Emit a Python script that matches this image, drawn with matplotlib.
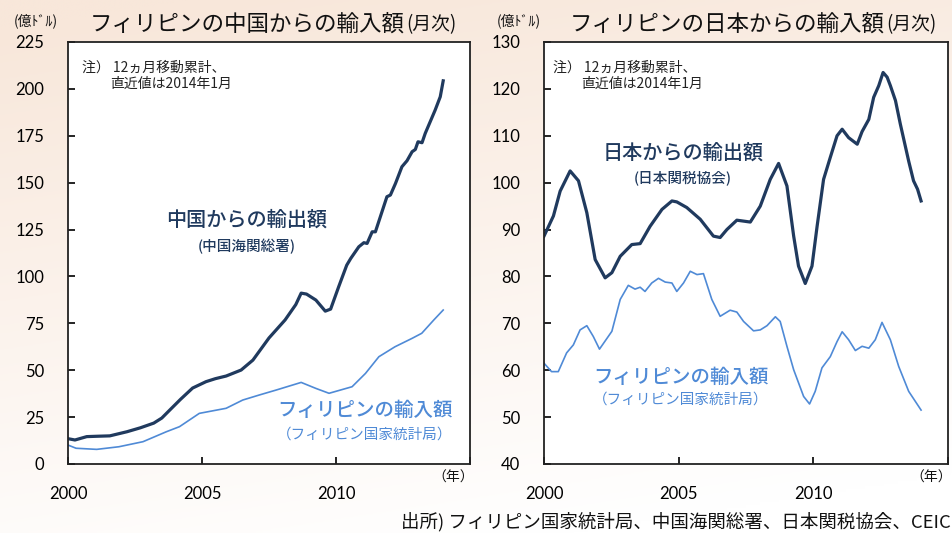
import numpy as np
import matplotlib
matplotlib.use("Agg")
import matplotlib.pyplot as plt

plt.rcParams['font.family'] = ['Noto Sans CJK JP', 'DejaVu Sans']

# data (decimal years, 億ドル, 12-month rolling sums)
china_years = [2000.0, 2000.26, 2000.7, 2001.1, 2001.56, 2002.2, 2002.7, 2003.2, 2003.5, 2003.8,
               2004.2, 2004.65, 2005.15, 2005.5, 2005.9, 2006.46, 2006.9, 2007.5, 2008.1, 2008.5,
               2008.7, 2008.9, 2009.25, 2009.6, 2009.8, 2010.1, 2010.4, 2010.55, 2010.85, 2011.04,
               2011.16, 2011.35, 2011.47, 2011.9, 2012.03, 2012.22, 2012.46, 2012.65, 2012.84, 2012.96,
               2013.06, 2013.21, 2013.33, 2013.7, 2013.89, 2014.0]
china_exports = [13.5, 12.8, 14.6, 14.8, 15.0, 17.2, 19.3, 21.8, 24.5, 28.8,
                 34.5, 40.5, 43.9, 45.5, 46.9, 50.1, 55.4, 67.2, 76.8, 85.0,
                 91.1, 90.6, 87.4, 81.5, 82.6, 94.5, 106.0, 109.6, 115.8, 118.0,
                 117.6, 123.8, 123.8, 142.5, 143.4, 149.6, 158.5, 161.7, 166.5, 167.7,
                 171.8, 171.3, 176.3, 188.7, 195.8, 204.3]

ph_china_years = [2000.0, 2000.3, 2001.07, 2001.9, 2002.8, 2003.67, 2004.16, 2004.9, 2005.9, 2006.52,
                  2007.14, 2007.76, 2008.7, 2009.25, 2009.74, 2010.6, 2011.1, 2011.6, 2012.2, 2012.84,
                  2013.2, 2013.65, 2014.0]
ph_from_china = [10.1, 8.4, 7.8, 9.2, 11.9, 17.2, 19.9, 27.0, 29.7, 34.1,
                 36.8, 39.4, 43.5, 40.3, 37.7, 41.2, 48.3, 57.2, 62.5, 67.0,
                 69.7, 76.8, 82.1]

japan_years = [2000.0, 2000.35, 2000.6, 2000.97, 2001.28, 2001.59, 2001.9, 2002.27, 2002.52, 2002.83,
               2003.26, 2003.57, 2003.94, 2004.38, 2004.75, 2004.93, 2005.3, 2005.8, 2006.29, 2006.54,
               2006.79, 2007.16, 2007.66, 2008.03, 2008.4, 2008.71, 2009.02, 2009.27, 2009.45, 2009.7,
               2009.95, 2010.14, 2010.38, 2010.63, 2010.88, 2011.07, 2011.31, 2011.63, 2011.81, 2012.06,
               2012.24, 2012.43, 2012.59, 2012.74, 2012.86, 2013.05, 2013.23, 2013.54, 2013.72, 2013.87,
               2014.0]
japan_exports = [88.6, 92.9, 98.2, 102.5, 100.4, 93.6, 83.6, 79.7, 80.8, 84.3,
                 86.8, 87.0, 90.7, 94.3, 96.1, 95.9, 94.7, 92.2, 88.6, 88.3,
                 90.0, 92.0, 91.6, 95.0, 100.7, 104.1, 99.3, 88.6, 82.2, 78.5,
                 82.2, 90.7, 100.7, 105.4, 110.0, 111.4, 109.6, 108.2, 110.9, 113.5,
                 118.2, 120.7, 123.5, 122.5, 120.7, 117.5, 112.5, 104.6, 100.4, 98.6,
                 96.1]

ph_japan_years = [2000.0, 2000.28, 2000.53, 2000.84, 2001.09, 2001.34, 2001.59, 2001.83, 2002.06, 2002.52,
                  2002.83, 2003.13, 2003.38, 2003.57, 2003.75, 2004.0, 2004.25, 2004.5, 2004.75, 2004.93,
                  2005.18, 2005.43, 2005.68, 2005.92, 2006.23, 2006.54, 2006.91, 2007.16, 2007.41, 2007.78,
                  2008.03, 2008.28, 2008.59, 2008.77, 2009.02, 2009.27, 2009.64, 2009.86, 2010.07, 2010.32,
                  2010.63, 2010.88, 2011.07, 2011.31, 2011.56, 2011.81, 2012.06, 2012.3, 2012.55, 2012.86,
                  2013.17, 2013.54, 2014.0]
ph_from_japan = [61.5, 59.7, 59.7, 63.7, 65.4, 68.6, 69.5, 67.2, 64.5, 68.3,
                 75.1, 78.1, 77.3, 77.7, 76.8, 78.6, 79.6, 78.8, 78.6, 76.8,
                 78.6, 81.1, 80.4, 80.6, 75.1, 71.5, 72.8, 72.4, 70.4, 68.4,
                 68.6, 69.5, 71.4, 70.4, 65.1, 60.1, 54.4, 52.8, 55.5, 60.5,
                 62.9, 66.1, 68.2, 66.5, 64.2, 65.1, 64.7, 66.5, 70.2, 66.5,
                 60.8, 55.5, 51.5]

x_ticks = [2000, 2005, 2010, 2015]
x_labels = ['2000', '2005', '2010', '']

dark = '#203a5e'
light = '#4f8ad6'
num_font = 'Lato'

W, H = 953, 533
fig = plt.figure(figsize=(W / 100, H / 100), dpi=100)

# peach background, fading to white towards the top
bg = fig.add_axes([0, 0, 1, 1], zorder=-10)
yy, xx = np.mgrid[0:1:200j, 0:1:200j]
t = np.clip(0.9 * yy + 0.25 * (1 - xx) - 0.1, 0, 1)
peach = np.array([248, 231, 218]) / 255
white = np.array([255, 255, 255]) / 255
img = white[None, None, :] * (1 - t[..., None]) + peach[None, None, :] * t[..., None]
bg.imshow(img[::-1], origin='upper', aspect='auto', extent=[0, 1, 0, 1])
bg.axis('off')


def px_axes(x0, y0, x1, y1):
    return fig.add_axes([x0 / W, 1 - y1 / H, (x1 - x0) / W, (y1 - y0) / H])


def ftext(x, y, s, **kw):
    return fig.text(x / W, 1 - y / H, s, **kw)


def style(ax, ymin, ymax, step):
    ax.set_xlim(2000, 2015)
    ax.set_ylim(ymin, ymax)
    ax.set_xticks(x_ticks)
    ax.set_xticklabels(x_labels)
    ax.set_yticks(np.arange(ymin, ymax + step / 2, step))
    ax.tick_params(direction='in', length=5, width=1.2, pad=16, labelsize=12)
    ax.tick_params(axis='y', pad=17)
    for lab in ax.get_xticklabels() + ax.get_yticklabels():
        lab.set_fontfamily(num_font)
    for s in ax.spines.values():
        s.set_linewidth(1.3)
        s.set_color('#222222')
    ax.set_facecolor('white')


# left panel: China
ax1 = px_axes(68, 42, 470, 464)
ax1.plot(ph_china_years, ph_from_china, color=light, lw=1.2)
ax1.plot(china_years, china_exports, color=dark, lw=2.3)
style(ax1, 0, 225, 25)

# right panel: Japan
ax2 = px_axes(544, 42, 948, 464)
ax2.plot(ph_japan_years, ph_from_japan, color=light, lw=1.2)
ax2.plot(japan_years, japan_exports, color=dark, lw=2.3)
style(ax2, 40, 130, 10)

# series labels
ftext(247, 220, '中国からの輸出額', color=dark, fontsize=14.5, fontweight='medium',
      ha='center', va='center')
ftext(247, 246, '(中国海関総署)', color=dark, fontsize=10.5, fontweight='medium',
      ha='center', va='center')
ftext(683, 153, '日本からの輸出額', color=dark, fontsize=14.5, fontweight='medium',
      ha='center', va='center')
ftext(683, 178, '(日本関税協会)', color=dark, fontsize=10.5, fontweight='medium',
      ha='center', va='center')

ftext(365, 410, 'フィリピンの輸入額', color=light, fontsize=14, fontweight='medium',
      ha='center', va='center')
ftext(365, 435, '（フィリピン国家統計局）', color=light, fontsize=10.5, ha='center', va='center')
ftext(681, 377, 'フィリピンの輸入額', color=light, fontsize=14, fontweight='medium',
      ha='center', va='center')
ftext(681, 400, '（フィリピン国家統計局）', color=light, fontsize=10.5, ha='center', va='center')

# titles: the "(月次)" part sits right after the main text
renderer = fig.canvas.get_renderer()
for x0, name in [(90, 'フィリピンの中国からの輸入額'), (570, 'フィリピンの日本からの輸入額')]:
    tt = ftext(x0, 24, name, fontsize=16.2, ha='left', va='center', color='#111111')
    x_end = tt.get_window_extent(renderer).x1
    fig.text(x_end / W + 0.001, 1 - 25 / H, '(月次)', fontsize=13.5, ha='left', va='center',
             color='#111111')

ftext(14, 21, '(億ﾄﾞﾙ)', fontsize=10, ha='left', va='center', color='#111111')
ftext(497, 21, '(億ﾄﾞﾙ)', fontsize=10, ha='left', va='center', color='#111111')
ftext(474, 478, '（年）', fontsize=10, ha='right', va='center', color='#111111')
ftext(952, 478, '（年）', fontsize=10, ha='right', va='center', color='#111111')

# notes
for x0 in (82, 553):
    ftext(x0, 68, '注） 12ヵ月移動累計、', fontsize=10, ha='left', va='center', color='#222222')
    ftext(x0 + 28, 84, '直近値は2014年1月', fontsize=10, ha='left', va='center', color='#222222')

ftext(951, 522, '出所) フィリピン国家統計局、中国海関総署、日本関税協会、CEIC', fontsize=13.3,
      ha='right', va='center', color='#111111')

fig.savefig('out.png', dpi=100)
